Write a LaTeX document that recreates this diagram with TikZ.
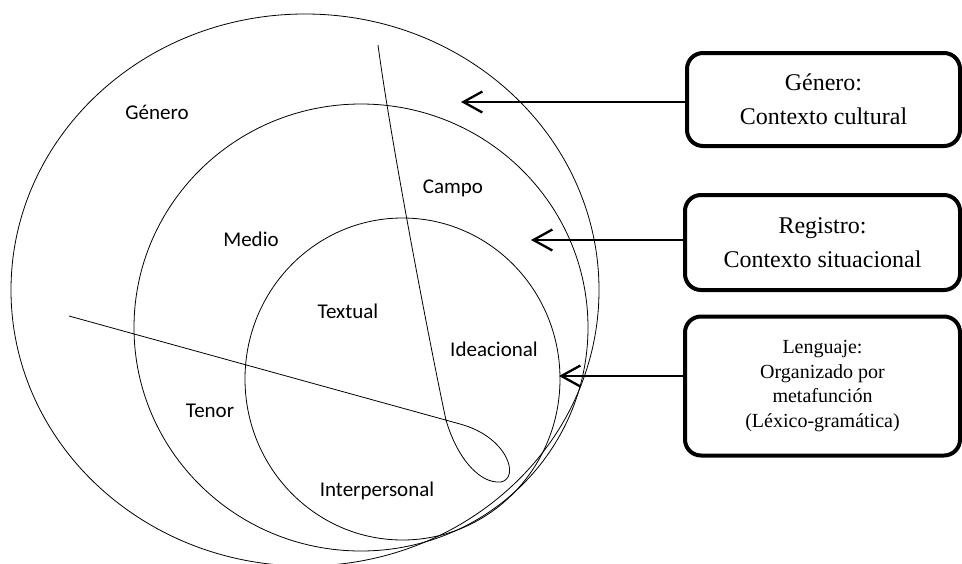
\documentclass[tikz,border=0pt]{standalone}
\usepackage{fontspec}
\usetikzlibrary{arrows.meta}
\newfontfamily\labelfont{Carlito}
\newfontfamily\boxfont{Liberation Serif}
\begin{document}
\begin{tikzpicture}[x=1pt,y=-1pt,
  ring/.style={draw, line width=0.8pt},
  lbl/.style={font=\labelfont\fontsize{21}{25}\selectfont, anchor=base, inner sep=0pt},
  infobox/.style={draw, line width=4pt, rounded corners=16pt, align=center,
    font=\boxfont\fontsize{24}{34}\selectfont, inner sep=0pt},
  pointer/.style={line width=2.3pt, -{Straight Barb[length=19pt,width=21pt]}}
]
\useasboundingbox (0,0) rectangle (962,563);
\clip (0,0) rectangle (962,563);

% rings
\draw[ring] (305,290) ellipse [x radius=294pt, y radius=276pt];
\draw[ring] (361,327.5) ellipse [x radius=227pt, y radius=223.5pt];
\draw[ring] (402.5,379) ellipse [x radius=157.5pt, y radius=161pt];

% dividing loop curve
\draw[ring] (69,316) -- (460,424) .. controls (508,437) and (520,478) .. (501,482)
  .. controls (478,484) and (456,455) .. (446,420)
  .. controls (435,370) and (392,150) .. (378,45);

% labels
\node[lbl] (genero) at (157,119) {Género};
\node[lbl] (campo) at (453,193) {Campo};
\node[lbl] (medio) at (251,246) {Medio};
\node[lbl] (textual) at (348,318) {Textual};
\node[lbl] (ideacional) at (494,356) {Ideacional};
\node[lbl] (tenor) at (210,417) {Tenor};
\node[lbl] (interpersonal) at (377,496) {Interpersonal};

% boxes
\node[infobox, minimum width=273pt, minimum height=93pt] (b1) at (823.5,99.5) {Género:\\Contexto cultural};
\node[infobox, minimum width=275pt, minimum height=95pt] (b2) at (822.5,242.5) {Registro:\\Contexto situacional};
\node[infobox, minimum width=275pt, minimum height=139pt,
  font=\boxfont\fontsize{20}{24.5}\selectfont] (b3) at (822.5,386)
  {Lenguaje:\\Organizado por\\metafunción\\(Léxico-gramática)};

% arrows
\coordinate (t1) at (461,102);
\coordinate (t2) at (531,240);
\coordinate (t3) at (559,376);
\draw[pointer] (t1 -| b1.west) -- (t1);
\draw[pointer] (t2 -| b2.west) -- (t2);
\draw[pointer] (t3 -| b3.west) -- (t3);
\end{tikzpicture}
\end{document}
